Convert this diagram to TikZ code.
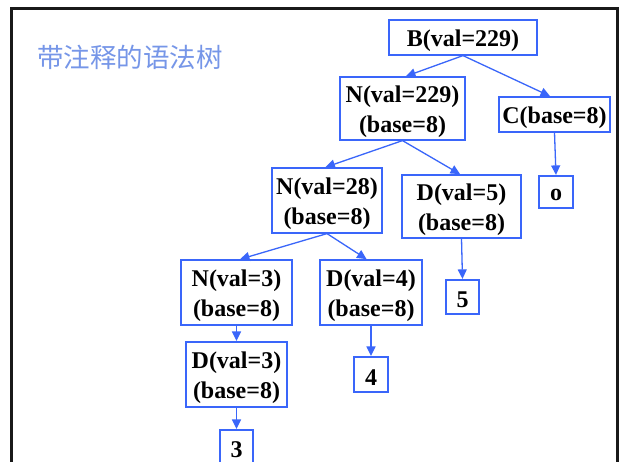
\documentclass[tikz,border=0pt]{standalone}
\usepackage{fontspec}
\setmainfont{Liberation Serif}
\newfontfamily\cjk{Noto Sans CJK SC}
\usetikzlibrary{arrows.meta}
\definecolor{edgeblue}{RGB}{58,102,250}
\definecolor{titleblue}{RGB}{118,150,232}
\definecolor{framegray}{RGB}{25,25,25}
\tikzset{
  tnode/.style={draw=edgeblue, line width=1.2pt, inner sep=0pt},
  tlabel/.style={inner sep=0pt, align=center, yshift=-3pt,
    font=\fontsize{24}{29.5}\selectfont\bfseries, text=black},
  link/.style={draw=edgeblue, line width=1.3pt,
    -{Triangle[length=9.5pt,width=9pt]}, shorten >=0.5pt},
}
\begin{document}
\begin{tikzpicture}[x=1pt, y=-1pt]
\clip (0,0) rectangle (621,462);
\fill[white] (0,0) rectangle (621,462);
% slide frame, open at the bottom
\draw[framegray, line width=2.6pt] (11.5,480) -- (11.5,8.5) -- (617.5,8.5) -- (617.5,480);
% heading
\node[text=titleblue, font=\cjk\fontsize{26.5}{30}\selectfont, anchor=center] (title) at (130,57.5) {带注释的语法树};
% tree nodes: a box with its text centred inside
\node[tnode, minimum width=148pt, minimum height=35pt, label={[tlabel]center:B(val=229)}] (B) at (463,37.5) {};
\node[tnode, minimum width=125pt, minimum height=63pt, label={[tlabel]center:{N(val=229)\\(base=8)}}] (N229) at (402.5,108.5) {};
\node[tnode, minimum width=111pt, minimum height=35pt, label={[tlabel]center:C(base=8)}] (C) at (554.5,114.5) {};
\node[tnode, minimum width=34pt, minimum height=32pt, label={[tlabel]center:o}] (o) at (556,192) {};
\node[tnode, minimum width=110pt, minimum height=65pt, label={[tlabel]center:{N(val=28)\\(base=8)}}] (N28) at (327,200.5) {};
\node[tnode, minimum width=119pt, minimum height=63pt, label={[tlabel]center:{D(val=5)\\(base=8)}}] (D5) at (461.5,206.5) {};
\node[tnode, minimum width=33pt, minimum height=34pt, label={[tlabel]center:5}] (L5) at (462.5,297) {};
\node[tnode, minimum width=111pt, minimum height=65pt, label={[tlabel]center:{N(val=3)\\(base=8)}}] (N3) at (236.5,292.5) {};
\node[tnode, minimum width=102pt, minimum height=65pt, label={[tlabel]center:{D(val=4)\\(base=8)}}] (D4) at (371,292.5) {};
\node[tnode, minimum width=34pt, minimum height=35pt, label={[tlabel]center:4}] (L4) at (371,374.5) {};
\node[tnode, minimum width=101pt, minimum height=65pt, label={[tlabel]center:{D(val=3)\\(base=8)}}] (D3) at (236.5,374.5) {};
\node[tnode, minimum width=33pt, minimum height=36pt, label={[tlabel, yshift=1.5pt]center:3}] (L3) at (236.5,448) {};
% connectors
\draw[link] (B.south) -- ([xshift=3pt]N229.north);
\draw[link] (B.south) -- ([xshift=-4pt]C.north);
\draw[link] (C.south) -- (o.north);
\draw[link] (N229.south) -- ([xshift=-2pt]N28.north);
\draw[link] (N229.south) -- ([xshift=-1pt]D5.north);
\draw[link] (D5.south) -- (L5.north);
\draw[link] (N28.south) -- ([xshift=3pt]N3.north);
\draw[link] (N28.south) -- ([xshift=-4pt]D4.north);
\draw[link] (N3.south) -- (D3.north);
\draw[link] (D4.south) -- (L4.north);
\draw[link] (D3.south) -- (L3.north);
\end{tikzpicture}
\end{document}
